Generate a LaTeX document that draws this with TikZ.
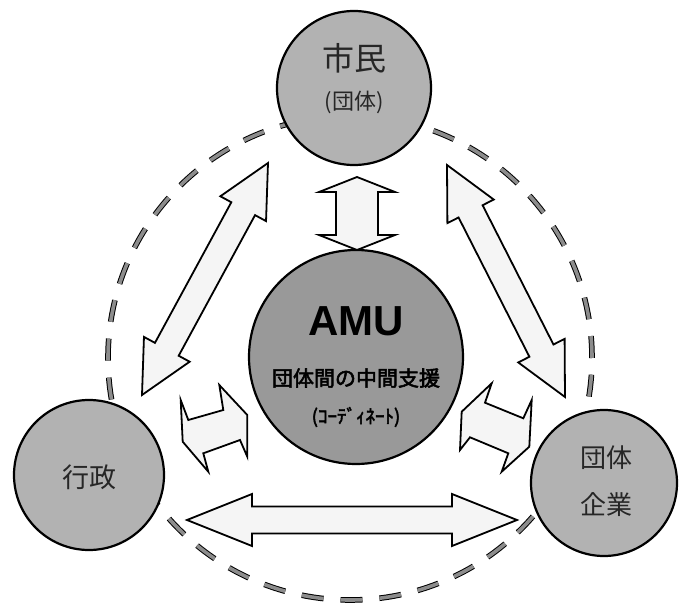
\documentclass[tikz,border=0pt]{standalone}
\usepackage{fontspec}
\usepackage{tikz}
\usetikzlibrary{calc}
\newfontfamily\jp{Noto Sans CJK JP}
\newfontfamily\jpbold[FakeBold=2.5]{Noto Sans CJK JP}
\setsansfont{Liberation Sans}
\definecolor{bubblegray}{gray}{0.70}
\definecolor{amugray}{gray}{0.60}
\definecolor{arrowfill}{gray}{0.96}
\definecolor{ringgray}{gray}{0.55}
\tikzstyle{bubble} = [circle, draw=black, line width=2.2pt, fill=bubblegray, inner sep=0pt]
\tikzstyle{jtext} = [inner sep=0pt, text=black!85]
\tikzstyle{ring} = [draw=black, line width=1pt, double=ringgray, double distance=3.6pt, dash pattern=on 22pt off 17pt]
\tikzstyle{smallarrow} = [draw=black, line width=1.8pt, fill=arrowfill, line join=miter]
\tikzset{head len/.store in=\headlen, head wid/.store in=\headwid, shaft wid/.store in=\shaftwid,
  head len=52pt, head wid=26pt, shaft wid=13.5pt}
\tikzstyle{bigarrow} = [draw=black, line width=1.8pt, fill=arrowfill, line join=miter,
  to path={(\tikztostart)
    -- ($(\tikztostart)!\headlen!(\tikztotarget)!\headwid!90:(\tikztotarget)$)
    -- ($(\tikztostart)!\headlen!(\tikztotarget)!\shaftwid!90:(\tikztotarget)$)
    -- ($(\tikztotarget)!\headlen!(\tikztostart)!\shaftwid!-90:(\tikztostart)$)
    -- ($(\tikztotarget)!\headlen!(\tikztostart)!\headwid!-90:(\tikztostart)$)
    -- (\tikztotarget)
    -- ($(\tikztotarget)!\headlen!(\tikztostart)!\headwid!90:(\tikztostart)$)
    -- ($(\tikztotarget)!\headlen!(\tikztostart)!\shaftwid!90:(\tikztostart)$)
    -- ($(\tikztostart)!\headlen!(\tikztotarget)!\shaftwid!-90:(\tikztotarget)$)
    -- ($(\tikztostart)!\headlen!(\tikztotarget)!\headwid!-90:(\tikztotarget)$)
    -- cycle}]

\begin{document}
\begin{tikzpicture}[x=1pt, y=-1pt]
	\useasboundingbox (0,0) rectangle (680,604);
	% dashed ring behind the circles
	\draw[ring] (350,358) circle (242pt);

	\node[bubble, minimum size=154pt] (shimin) at (354,88) {};
	\node[bubble, minimum size=150pt] (gyosei) at (89,475) {};
	\node[bubble, minimum size=146pt] (kigyo) at (604,483) {};
	\node[bubble, fill=amugray, minimum size=214pt] (amu) at (356,357) {};

	\node[jtext, font={\jp\fontsize{32}{32}\selectfont}] (shimin-a) at ([yshift=30pt]shimin.center) {市民};
	\node[jtext, font={\jp\fontsize{22}{22}\selectfont}] (shimin-b) at ([yshift=-14pt]shimin.center) {(団体)};
	\node[jtext, font={\jp\fontsize{27}{27}\selectfont}] (gyosei-a) at ([yshift=-2pt]gyosei.center) {行政};
	\node[jtext, font={\jp\fontsize{26}{26}\selectfont}] (kigyo-a) at ([xshift=2pt, yshift=25pt]kigyo.center) {団体};
	\node[jtext, font={\jp\fontsize{26}{26}\selectfont}] (kigyo-b) at ([xshift=2pt, yshift=-22pt]kigyo.center) {企業};
	\node[jtext, text=black, font={\sffamily\bfseries\fontsize{42}{42}\selectfont}] (amu-a) at ([yshift=36pt]amu.center) {AMU};
	\node[jtext, text=black, font={\jpbold\fontsize{21}{21}\selectfont}] (amu-b) at ([yshift=-21pt]amu.center) {団体間の中間支援};
	\node[jtext, text=black, font={\jpbold\fontsize{19}{19}\selectfont}] (amu-c) at ([yshift=-60pt]amu.center) {(ｺｰﾃﾞｨﾈｰﾄ)};

	% block arrows between the circles
	\coordinate (up1) at (357,177);
	\coordinate (up2) at (357,250);
	\coordinate (left1) at (268,163);
	\coordinate (left2) at (142,395);
	\coordinate (right1) at (447,165);
	\coordinate (right2) at (565,397);
	\coordinate (low1) at (187,520);
	\coordinate (low2) at (517,520);
	\draw[bigarrow, head len=15pt, head wid=38pt, shaft wid=21pt] (up1) to (up2);
	\draw[bigarrow] (left1) to (left2);
	\draw[bigarrow] (right1) to (right2);
	\draw[bigarrow, head len=65pt] (low1) to (low2);

	% small tilted arrows beside AMU
	\draw[smallarrow] (180.7,400) -- (188.3,420) -- (223.3,410) -- (219.3,385) -- (247.3,415)
		-- (247.3,456.7) -- (240,440) -- (203.3,453.3) -- (208.3,471.7) -- (182.7,441.7) -- cycle;
	\draw[smallarrow] (461.7,411.7) -- (491.7,383.3) -- (485,402.7) -- (523.3,418.3) -- (531.7,400)
		-- (529.3,446.7) -- (501.7,471.7) -- (508.3,453.3) -- (470,437.3) -- (460,450) -- cycle;
\end{tikzpicture}
\end{document}
